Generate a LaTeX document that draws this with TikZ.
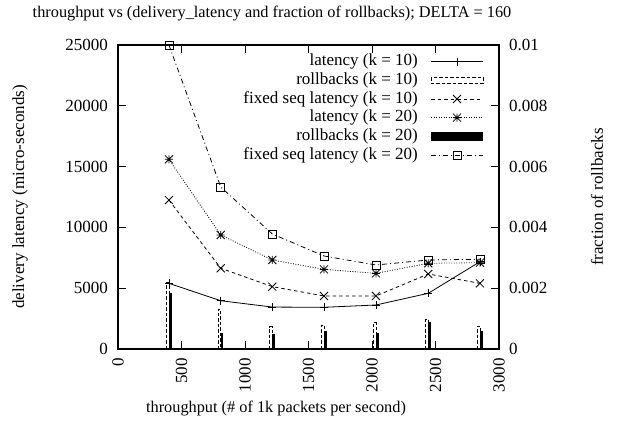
\documentclass[tikz,border=0pt]{standalone}
\usepackage{fontspec}
\setmainfont{Liberation Serif}
\usetikzlibrary{plotmarks}

% gnuplot-like point types
\pgfdeclareplotmark{gpcross}{%
  \pgfpathmoveto{\pgfqpoint{-\pgfplotmarksize}{-\pgfplotmarksize}}%
  \pgfpathlineto{\pgfqpoint{\pgfplotmarksize}{\pgfplotmarksize}}%
  \pgfpathmoveto{\pgfqpoint{-\pgfplotmarksize}{\pgfplotmarksize}}%
  \pgfpathlineto{\pgfqpoint{\pgfplotmarksize}{-\pgfplotmarksize}}%
  \pgfusepathqstroke}
\pgfdeclareplotmark{gpstar}{%
  \pgfpathmoveto{\pgfqpoint{-\pgfplotmarksize}{0pt}}%
  \pgfpathlineto{\pgfqpoint{\pgfplotmarksize}{0pt}}%
  \pgfpathmoveto{\pgfqpoint{0pt}{-\pgfplotmarksize}}%
  \pgfpathlineto{\pgfqpoint{0pt}{\pgfplotmarksize}}%
  \pgfpathmoveto{\pgfqpoint{-\pgfplotmarksize}{-\pgfplotmarksize}}%
  \pgfpathlineto{\pgfqpoint{\pgfplotmarksize}{\pgfplotmarksize}}%
  \pgfpathmoveto{\pgfqpoint{-\pgfplotmarksize}{\pgfplotmarksize}}%
  \pgfpathlineto{\pgfqpoint{\pgfplotmarksize}{-\pgfplotmarksize}}%
  \pgfusepathqstroke}

\tikzset{
  every node/.style={inner sep=0pt, font=\fontsize{17}{20}\selectfont},
  labeltext/.style={font=\fontsize{16.3}{19}\selectfont},
  frame/.style={line width=1.3pt},
  tickline/.style={line width=1pt},
  curve/.style={line width=0.8pt, mark size=4pt, mark options={solid, line width=0.8pt}},
  lat10/.style={curve, mark=+},
  fix10/.style={curve, dash pattern=on 3.5pt off 3pt, mark=gpcross},
  lat20/.style={curve, dash pattern=on 0.9pt off 1.6pt, mark=gpstar},
  fix20/.style={curve, dash pattern=on 5pt off 3pt on 1pt off 3pt, mark=square},
  rb10/.style={line width=0.8pt, dash pattern=on 3.5pt off 2pt},
  rb20/.style={fill=black},
}

\begin{document}
\begin{tikzpicture}[x=1pt, y=-1pt]
\useasboundingbox (0,0) rectangle (617,429);

% title and axis labels
\node[labeltext] (title) at (272,14) {throughput vs (delivery\_latency and fraction of rollbacks); DELTA = 160};
\node[rotate=90] (ylabel) at (20,197) {delivery latency (micro-seconds)};
\node[rotate=90] (y2label) at (597,197) {fraction of rollbacks};
\node[labeltext] (xlabel) at (276,409) {throughput (\# of 1k packets per second)};

% rollback fractions (right axis, unit 0.001)
\begin{scope}[shift={(118pt,-349pt)}, x=0.127pt, y=30.4pt]
  \foreach \xv/\a/\b in {401/2.18/1.83, 809/1.31/0.52, 1215/0.73/0.49,
                         1622/0.79/0.60, 2031/0.87/0.52, 2443/0.98/0.90, 2850/0.76/0.60}{
    \draw[rb10] ([xshift=-2.5pt]\xv,0) rectangle (\xv,\a);
    \fill[rb20] (\xv,0) rectangle ([xshift=2.7pt]\xv,\b);
  }
  % right axis ticks and labels
  \foreach \f/\t in {0/0, 2/0.002, 4/0.004, 6/0.006, 8/0.008, 10/0.01}{
    \draw[tickline] (3000,\f) -- ++(-8pt,0);
    \node[anchor=west] (r\f) at ([xshift=10pt]3000,\f) {\t};
  }
\end{scope}

% delivery latency (left axis, unit 1000 micro-seconds)
\begin{scope}[shift={(118pt,-349pt)}, x=0.127pt, y=12.16pt]
  \draw[lat10] plot coordinates {(401,5.40) (809,3.97) (1215,3.45) (1622,3.43) (2031,3.62) (2443,4.58) (2850,7.18)};
  \draw[fix10] plot coordinates {(401,12.25) (809,6.64) (1215,5.13) (1622,4.36) (2031,4.36) (2443,6.17) (2850,5.40)};
  \draw[lat20] plot coordinates {(401,15.6) (809,9.38) (1215,7.32) (1622,6.55) (2031,6.22) (2443,7.05) (2850,7.10)};
  \draw[fix20] plot coordinates {(401,25.0) (809,13.32) (1215,9.46) (1622,7.65) (2031,6.91) (2443,7.32) (2850,7.38)};

  % left axis ticks and labels
  \foreach \yv/\t in {0/0, 5/5000, 10/10000, 15/15000, 20/20000, 25/25000}{
    \draw[tickline] (0,\yv) -- ++(8pt,0);
    \node[anchor=east] (l\yv) at ([xshift=-10pt]0,\yv) {\t};
  }
  % bottom and top ticks, bottom labels
  \foreach \xv in {0,500,...,3000}{
    \draw[tickline] (\xv,0) -- ++(0,8pt);
    \draw[tickline] (\xv,25) -- ++(0,-8pt);
    \node[rotate=90, anchor=east] (b\xv) at ([yshift=-9pt]\xv,0) {\xv};
  }
\end{scope}

% plot frame
\draw[frame] (118,45) rectangle (499,349);

% key
\node[anchor=east] (k1) at (418,61.7) {latency (k = 10)};
\node[anchor=east] (k2) at (418,80.3) {rollbacks (k = 10)};
\node[anchor=east] (k3) at (418,99) {fixed seq latency (k = 10)};
\node[anchor=east] (k4) at (418,117.6) {latency (k = 20)};
\node[anchor=east] (k5) at (418,136.3) {rollbacks (k = 20)};
\node[anchor=east] (k6) at (418,155) {fixed seq latency (k = 20)};

\draw[curve] (431,61.7) -- (483,61.7);
\draw[lat10] plot coordinates {(457,61.7)};
\draw[rb10] (431,77.3) rectangle (483,83.3);
\draw[fix10] (431,99) -- (483,99);
\draw[fix10] plot coordinates {(457,99)};
\draw[lat20] (431,117.6) -- (483,117.6);
\draw[lat20] plot coordinates {(457,117.6)};
\fill[rb20] (431,131.8) rectangle (483,140.8);
\draw[fix20] (431,155) -- (483,155);
\draw[fix20] plot coordinates {(457,155)};
\end{tikzpicture}
\end{document}
